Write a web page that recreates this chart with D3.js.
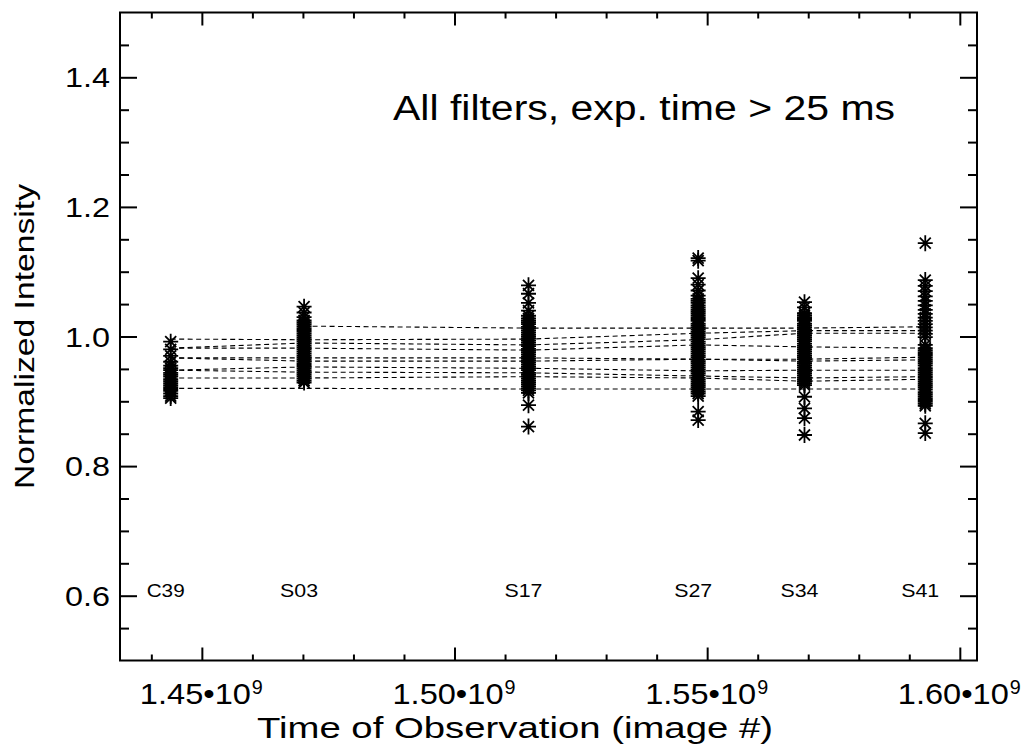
<!DOCTYPE html>
<html><head><meta charset="utf-8">
<script src="https://cdn.jsdelivr.net/npm/d3@7"></script>
<style>
body{margin:0;background:#fff}
text{font-family:"Liberation Sans",Arial,Helvetica,sans-serif;fill:#000}
</style>
</head><body>
<svg id="chart" width="1029" height="748"></svg>
<script>
// ---- data ----
const seasons = ["C39","S03","S17","S27","S34","S41"];
const seasonTimes = [1.44383e9, 1.47023e9, 1.51464e9, 1.54822e9, 1.56926e9, 1.59316e9];

// individual normalized intensities per season (asterisks)
const pointsC39 = [0.992,0.980,0.970,0.961,0.955,0.951,0.948,0.944,0.941,0.938,0.934,0.931,0.928,0.925,0.922,0.919,0.916,0.912,0.908,0.905];
const pointsS03 = [1.046,1.037,1.030,1.025,1.022,1.019,1.016,1.013,1.010,1.007,1.004,1.001,0.998,0.995,0.992,0.989,0.986,0.983,0.980,0.977,0.974,0.971,0.968,0.965,0.962,0.959,0.956,0.953,0.950,0.947,0.944,0.941,0.938,0.935,0.932,0.929];
const pointsS17 = [1.079,1.066,1.052,1.040,1.032,1.028,1.025,1.022,1.019,1.015,1.012,1.009,1.006,1.003,1.000,0.997,0.994,0.991,0.988,0.985,0.981,0.978,0.975,0.972,0.969,0.966,0.963,0.960,0.957,0.954,0.951,0.948,0.944,0.941,0.938,0.935,0.932,0.929,0.926,0.923,0.920,0.917,0.913,0.894,0.861];
const pointsS27 = [1.121,1.117,1.090,1.080,1.071,1.063,1.058,1.055,1.052,1.048,1.045,1.042,1.039,1.036,1.033,1.030,1.027,1.024,1.020,1.017,1.014,1.011,1.008,1.005,1.002,0.999,0.996,0.992,0.989,0.986,0.983,0.980,0.977,0.974,0.971,0.968,0.964,0.961,0.958,0.955,0.952,0.949,0.946,0.943,0.940,0.936,0.933,0.930,0.927,0.924,0.921,0.918,0.915,0.912,0.908,0.884,0.871];
const pointsS34 = [1.053,1.045,1.036,1.033,1.030,1.027,1.024,1.020,1.017,1.014,1.011,1.008,1.005,1.002,0.999,0.996,0.993,0.989,0.986,0.983,0.980,0.977,0.974,0.971,0.968,0.965,0.961,0.958,0.955,0.952,0.949,0.946,0.943,0.940,0.937,0.934,0.931,0.928,0.925,0.907,0.889,0.874,0.848];
const pointsS41 = [1.144,1.087,1.078,1.070,1.062,1.055,1.048,1.041,1.035,1.029,1.024,1.019,1.014,1.009,1.004,0.999,0.987,0.982,0.979,0.976,0.973,0.970,0.967,0.964,0.961,0.958,0.955,0.951,0.948,0.945,0.942,0.939,0.936,0.933,0.930,0.927,0.924,0.921,0.918,0.914,0.911,0.908,0.905,0.902,0.899,0.896,0.893,0.866,0.851];
const seasonPoints = [pointsC39, pointsS03, pointsS17, pointsS27, pointsS34, pointsS41];

// per-filter mean intensity per season (dashed lines); null = no data that season
const filter1  = [null,  1.016, 1.013, 1.013, 1.013, 1.015];
const filter2  = [0.996, 0.995, 0.996, 1.005, 1.009, 1.009];
const filter3  = [0.982, 0.990, 0.987, 0.995, 1.005, 1.005];
const filter4  = [0.982, 0.982, 0.979, 0.987, 0.984, 0.982];
const filter5  = [0.967, 0.967, 0.967, 0.965, 0.965, 0.968];
const filter6  = [0.967, 0.962, 0.962, 0.965, 0.962, 0.964];
const filter7  = [0.948, 0.953, 0.951, 0.947, 0.948, 0.948];
const filter8  = [0.948, 0.945, 0.944, 0.939, 0.936, 0.938];
const filter9  = [0.936, 0.936, 0.938, 0.936, 0.931, 0.934];
const filter10 = [0.920, 0.920, 0.919, 0.919, 0.919, 0.919];
const filterSeries = [filter1,filter2,filter3,filter4,filter5,filter6,filter7,filter8,filter9,filter10];

const xTickValues = [1.45e9, 1.50e9, 1.55e9, 1.60e9];
const xTickLabels = ["1.45", "1.50", "1.55", "1.60"];
const xExponent = "9";
const yTickValues = [0.6, 0.8, 1.0, 1.2, 1.4];
const yTickLabels = ["0.6", "0.8", "1.0", "1.2", "1.4"];
const xTitle = "Time of Observation (image #)";
const yTitle = "Normalized Intensity";
const annotation = "All filters, exp. time > 25 ms";

// ---- layout ----
const L = 120, R = 977, T = 12.5, B = 660.5;
const svg = d3.select("#chart");
const x = d3.scaleLinear().domain([1.4338e9, 1.6034e9]).range([L, R]);
const y = d3.scaleLinear().domain([0.5, 1.5]).range([B, T]);

const xMinor = d3.range(1.44e9, 1.6035e9, 0.01e9).filter(v => !xTickValues.some(t => Math.abs(t - v) < 1e6));
const yMinor = d3.range(0.55, 1.5, 0.05).filter(v => !yTickValues.some(t => Math.abs(t - v) < 1e-6));

function styleAxis(g){
  g.select(".domain").remove();
  g.selectAll("line").attr("stroke","#000").attr("stroke-width",2);
  g.selectAll("text").remove();
}
svg.append("g").attr("transform",`translate(0,${B})`).call(d3.axisBottom(x).tickValues(xTickValues).tickSizeInner(-13).tickSizeOuter(0)).call(styleAxis);
svg.append("g").attr("transform",`translate(0,${B})`).call(d3.axisBottom(x).tickValues(xMinor).tickSizeInner(-6).tickSizeOuter(0)).call(styleAxis);
svg.append("g").attr("transform",`translate(0,${T})`).call(d3.axisTop(x).tickValues(xTickValues).tickSizeInner(-13).tickSizeOuter(0)).call(styleAxis);
svg.append("g").attr("transform",`translate(0,${T})`).call(d3.axisTop(x).tickValues(xMinor).tickSizeInner(-6).tickSizeOuter(0)).call(styleAxis);
svg.append("g").attr("transform",`translate(${L},0)`).call(d3.axisLeft(y).tickValues(yTickValues).tickSizeInner(-17).tickSizeOuter(0)).call(styleAxis);
svg.append("g").attr("transform",`translate(${L},0)`).call(d3.axisLeft(y).tickValues(yMinor).tickSizeInner(-9).tickSizeOuter(0)).call(styleAxis);
svg.append("g").attr("transform",`translate(${R},0)`).call(d3.axisRight(y).tickValues(yTickValues).tickSizeInner(-17).tickSizeOuter(0)).call(styleAxis);
svg.append("g").attr("transform",`translate(${R},0)`).call(d3.axisRight(y).tickValues(yMinor).tickSizeInner(-9).tickSizeOuter(0)).call(styleAxis);

svg.append("rect").attr("x",L).attr("y",T).attr("width",R-L).attr("height",B-T)
  .attr("fill","none").attr("stroke","#000").attr("stroke-width",2);

svg.append("g").selectAll("text").data(yTickValues).join("text")
  .attr("x", L - 10).attr("y", d => y(d) + 10)
  .attr("text-anchor","end").attr("font-size",28)
  .attr("textLength",45).attr("lengthAdjust","spacingAndGlyphs")
  .text((d,i) => yTickLabels[i]);

const xl = svg.append("g").selectAll("g").data(xTickValues).join("g");
xl.append("text")
  .attr("x", d => x(d) - 62).attr("y", 704)
  .attr("font-size",30).attr("textLength",111).attr("lengthAdjust","spacingAndGlyphs")
  .text((d,i) => xTickLabels[i] + "\u202210");
xl.append("text")
  .attr("x", d => x(d) + 50).attr("y", 694)
  .attr("font-size",21).attr("textLength",11).attr("lengthAdjust","spacingAndGlyphs")
  .text(xExponent);

svg.append("text").attr("x",515).attr("y",738).attr("text-anchor","middle")
  .attr("font-size",30).attr("textLength",516).attr("lengthAdjust","spacingAndGlyphs").text(xTitle);
svg.append("text").attr("transform","translate(33.5,336.5) rotate(-90)").attr("text-anchor","middle")
  .attr("font-size",28).attr("textLength",305).attr("lengthAdjust","spacingAndGlyphs").text(yTitle);

svg.append("text").attr("x",393).attr("y",120)
  .attr("font-size",35).attr("textLength",502).attr("lengthAdjust","spacingAndGlyphs").text(annotation);

svg.append("g").selectAll("text").data(seasons).join("text")
  .attr("x",(d,i) => x(seasonTimes[i]) - 5).attr("y", y(0.6) + 1)
  .attr("text-anchor","middle").attr("font-size",18.5)
  .attr("textLength",38).attr("lengthAdjust","spacingAndGlyphs")
  .text(d => d);

const line = d3.line().defined(d => d != null).x((d,i) => x(seasonTimes[i])).y(d => y(d));
svg.append("g").selectAll("path").data(filterSeries).join("path")
  .attr("d", line).attr("fill","none").attr("stroke","#000")
  .attr("stroke-width",1.1).attr("stroke-dasharray","5,3.5");

const star = "M-7.5,0H7.5M0,-8V8M-5.5,-5.5L5.5,5.5M-5.5,5.5L5.5,-5.5";
const pts = [];
seasonPoints.forEach((arr,i) => arr.forEach(v => pts.push({t: seasonTimes[i], v})));
svg.append("g").selectAll("path").data(pts).join("path")
  .attr("transform", d => `translate(${x(d.t)},${y(d.v)})`)
  .attr("d", star).attr("fill","none").attr("stroke","#000").attr("stroke-width",1.8);
</script>
</body></html>
